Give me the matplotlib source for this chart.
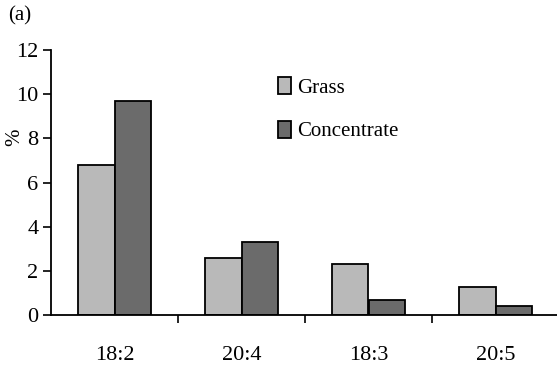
import matplotlib
matplotlib.use("Agg")
import matplotlib.pyplot as plt
import numpy as np

categories = ["18:2", "20:4", "18:3", "20:5"]
grass = [6.8, 2.6, 2.3, 1.25]
concentrate = [9.7, 3.3, 0.7, 0.4]
yticks = [0, 2, 4, 6, 8, 10, 12]

plt.rcParams['font.family'] = ['Liberation Serif', 'DejaVu Serif']

fig = plt.figure(figsize=(5.57, 3.71), dpi=100)
W, H = 557, 371
ax = fig.add_axes([51 / W, 1 - 315 / H, 508 / W, 265 / H])

x = np.arange(len(categories))
bw = 0.29
ax.bar(x - bw / 2, grass, bw, color="#b9b9b9", edgecolor="black", linewidth=1.3, label="Grass")
ax.bar(x + bw / 2, concentrate, bw, color="#6b6b6b", edgecolor="black", linewidth=1.3, label="Concentrate")

ax.set_xlim(-0.5, 3.5)
ax.set_ylim(0, 12)
ax.set_yticks(yticks)
ax.set_yticklabels([str(v) for v in yticks], fontsize=16)
ax.set_xticks([0.5, 1.5, 2.5])
ax.set_xticklabels([])
ax.set_xticks(x, minor=True)
ax.set_xticklabels(categories, minor=True, fontsize=16)
ax.tick_params(axis='x', which='minor', length=0, pad=22)
ax.tick_params(axis='x', which='major', length=6, width=1.2, direction='out')
ax.tick_params(axis='y', length=6, width=1.2, direction='out', pad=3)

for s in ["top", "right"]:
    ax.spines[s].set_visible(False)
for s in ["left", "bottom"]:
    ax.spines[s].set_linewidth(1.3)

ax.set_ylabel("%", fontsize=15)
ax.yaxis.set_label_coords(-0.052, 0.67)

fig.text(8 / W, 1 - 16 / H, "(a)", fontsize=15, va="center", ha="left")

leg = ax.legend(loc="upper left", bbox_to_anchor=(0.43, 0.93), frameon=False,
                fontsize=15, handlelength=0.65, handleheight=0.9, handletextpad=0.3,
                labelspacing=1.1, borderaxespad=0)

fig.savefig("out.png", dpi=100)
